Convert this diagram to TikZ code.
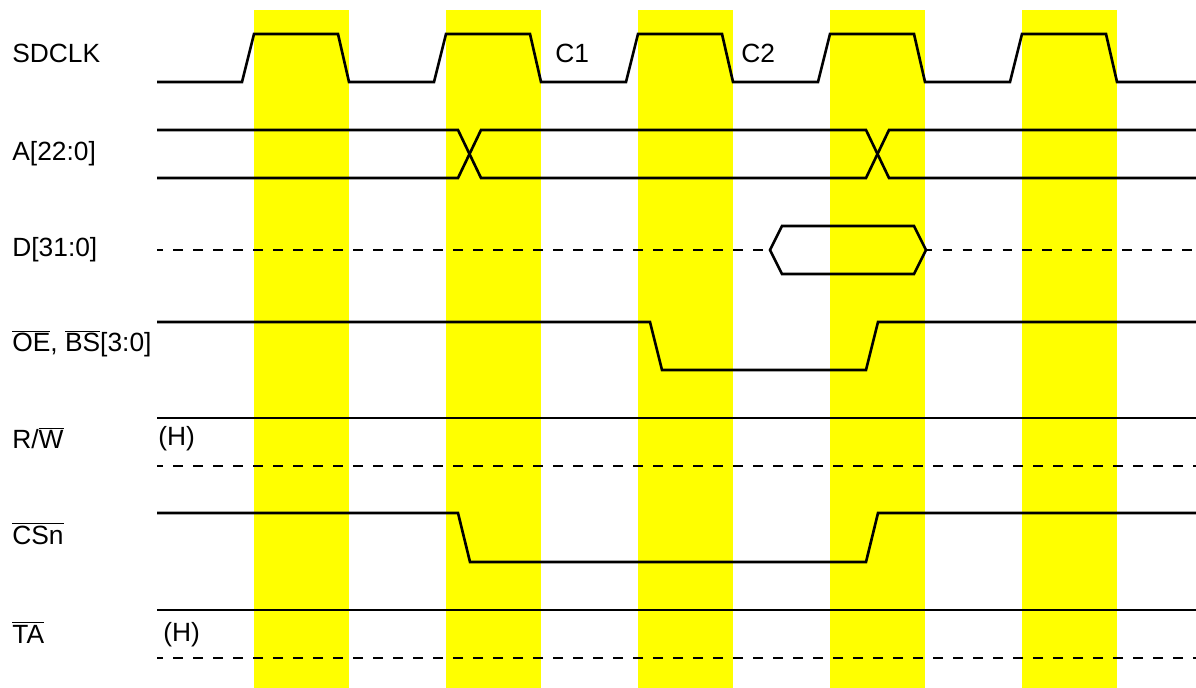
\documentclass[tikz,border=0pt]{standalone}
\usepackage{fontspec}
\setmainfont{Liberation Sans}
\usetikzlibrary{positioning}
\definecolor{bandyellow}{RGB}{255,255,0}
\tikzset{
  band/.style={fill=bandyellow, draw=none},
  sig/.style={line width=1.5pt, line join=miter},
  hiz/.style={sig, dash pattern=on 0.19cm off 0.21cm, dash phase=0.07cm},
  lbl/.style={anchor=base west, inner sep=0pt, font=\fontsize{15}{18}\selectfont},
}
\newcommand{\ovl}[1]{$\overline{\mbox{#1}}$}

\begin{document}
\begin{tikzpicture}[x=0.02cm, y=-0.02cm]
    \useasboundingbox (0,0) rectangle (1196,688);
    % clock-high bands
    \foreach \b in {254,446,638,830,1022}
      \fill[band] (\b,10) rectangle ++(95,678);
    % signal names
    \node[lbl] (sdclk) at (12,63) {SDCLK};
    \node[lbl] (addr) at (12,161) {A[22:0]};
    \node[lbl] (data) at (12,257) {D[31:0]};
    \node[lbl] (oe) at (12,352) {\ovl{OE}, \ovl{BS}[3:0]};
    \node[lbl] (rw) at (12,449) {R/\ovl{W}};
    \node[lbl] (cs) at (12,544) {\ovl{CSn}};
    \node[lbl] (ta) at (12,643) {\ovl{TA}};
    \node[lbl] (c1) at (555,63) {C1};
    \node[lbl] (c2) at (741,63) {C2};
    \node[lbl] (rwh) at (158,446) {(H)};
    \node[lbl] (tah) at (163,641) {(H)};
    % SDCLK
    \draw[sig] (157,82) \foreach \b in {254,446,638,830,1022} {
      -- (\b-12,82) -- (\b,34) -- (\b+84,34) -- (\b+95,82) } -- (1196,82);
    % A[22:0]
    \draw[sig] (157,130) -- (458,130) -- (481,178) -- (866,178) -- (889,130) -- (1196,130);
    \draw[sig] (157,178) -- (458,178) -- (481,130) -- (866,130) -- (889,178) -- (1196,178);
    % D[31:0]
    \draw[hiz] (157,250) -- (770,250);
    \draw[sig] (770,250) -- (782,226) -- (914,226) -- (926,250) -- (914,274) -- (782,274) -- cycle;
    \draw[hiz] (926,250) -- (1196,250);
    % OE, BS
    \draw[sig] (157,322) -- (650,322) -- (662,370) -- (866,370) -- (878,322) -- (1196,322);
    % R/W
    \draw[sig] (157,418) -- (1196,418);
    \draw[hiz] (157,466) -- (1196,466);
    % CSn
    \draw[sig] (157,513) -- (458,513) -- (470,562) -- (866,562) -- (878,513) -- (1196,513);
    % TA
    \draw[sig] (157,610) -- (1196,610);
    \draw[hiz] (157,658) -- (1196,658);
  \end{tikzpicture}
\end{document}
